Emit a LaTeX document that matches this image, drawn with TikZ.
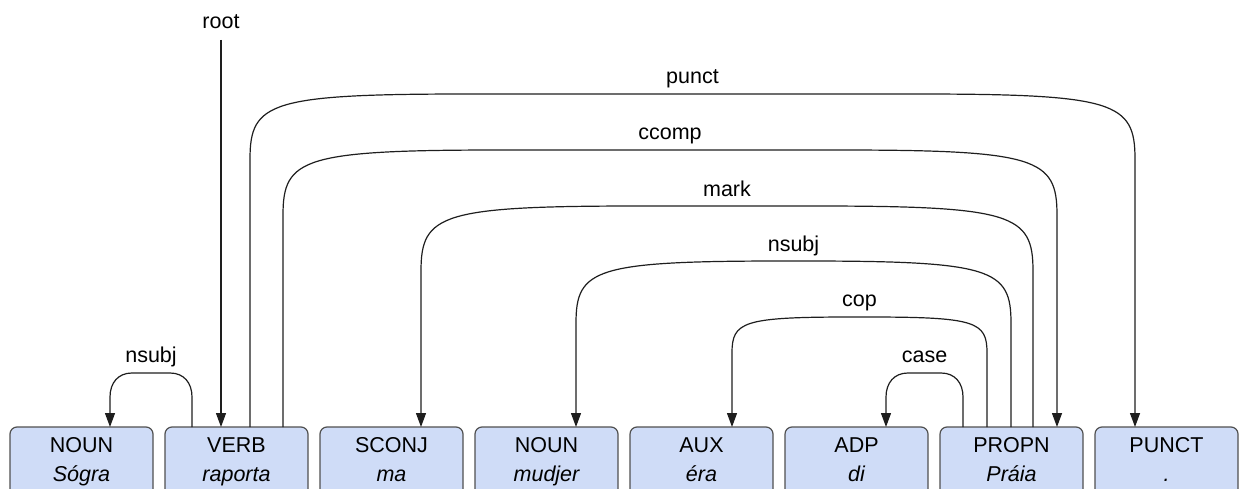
\documentclass[tikz,border=0pt]{standalone}
\usepackage{fontspec}
\setmainfont{Liberation Sans}
\usetikzlibrary{arrows.meta}
\definecolor{tokfill}{RGB}{207,220,247}
\definecolor{tokdraw}{RGB}{80,80,80}
\definecolor{arcline}{RGB}{30,30,30}
\tikzset{
  tok/.style={draw=tokdraw, fill=tokfill, line width=1.2pt, rounded corners=7pt,
    minimum width=143pt, minimum height=73pt, inner sep=0pt, outer sep=0pt},
  postag/.style={anchor=base, inner sep=0pt, font=\fontsize{21.5pt}{26pt}\selectfont},
  wordform/.style={anchor=base, inner sep=0pt, font=\fontsize{21.5pt}{26pt}\selectfont\itshape},
  rel/.style={anchor=base, inner sep=0pt, font=\fontsize{21.5pt}{26pt}\selectfont},
  deparc/.style={draw=arcline, line width=1.2pt, -{Triangle[length=14pt,width=10pt]}},
}
\begin{document}
\begin{tikzpicture}[x=1pt, y=-1pt]
\useasboundingbox (0,0) rectangle (1246,489);
\clip (0,0) rectangle (1246,489);

% token boxes (bottom edge runs past the page)
\foreach \i/\cx in {1/81.5,2/236.5,3/391.5,4/546.5,5/701.5,6/856.5,7/1011.5,8/1166.5}{
  \node[tok] (w\i) at (\cx,463.5) {};
}

% part-of-speech tags and word forms
\node[postag] (p1) at ([yshift=-25pt]w1.north) {NOUN};
\node[wordform] (f1) at ([yshift=-54pt]w1.north) {Sógra};
\node[postag] (p2) at ([yshift=-25pt]w2.north) {VERB};
\node[wordform] (f2) at ([yshift=-54pt]w2.north) {raporta};
\node[postag] (p3) at ([yshift=-25pt]w3.north) {SCONJ};
\node[wordform] (f3) at ([yshift=-54pt]w3.north) {ma};
\node[postag] (p4) at ([yshift=-25pt]w4.north) {NOUN};
\node[wordform] (f4) at ([yshift=-54pt]w4.north) {mudjer};
\node[postag] (p5) at ([yshift=-25pt]w5.north) {AUX};
\node[wordform] (f5) at ([yshift=-54pt]w5.north) {éra};
\node[postag] (p6) at ([yshift=-25pt]w6.north) {ADP};
\node[wordform] (f6) at ([yshift=-54pt]w6.north) {di};
\node[postag] (p7) at ([yshift=-25pt]w7.north) {PROPN};
\node[wordform] (f7) at ([yshift=-54pt]w7.north) {Práia};
\node[postag] (p8) at ([yshift=-25pt]w8.north) {PUNCT};
\node[wordform] (f8) at ([yshift=-54pt]w8.north) {.};

% relation labels
\node[rel] (lroot)  at (221,29)    {root};
\node[rel] (lpunct) at (692.5,84)  {punct};
\node[rel] (lccomp) at (670,140)   {ccomp};
\node[rel] (lmark)  at (727,196)   {mark};
\node[rel] (lnsubjb) at (793.5,251) {nsubj};
\node[rel] (lcop)   at (859.5,306) {cop};
\node[rel] (lcase)  at (924.5,362) {case};
\node[rel] (lnsubja) at (151,362)  {nsubj};

% root
\coordinate (rootstart) at (221,40);
\draw[deparc] (rootstart) -- ([xshift=-15.5pt]w2.north);

% nsubj: raporta -> Sógra
\draw[deparc] ([xshift=-44.5pt]w2.north) -- (192,397)
  .. controls (192,383) and (184,373) .. (170,373) -- (132,373)
  .. controls (118,373) and (110,383) .. (110,397) -- ([xshift=28.5pt]w1.north);

% punct: raporta -> .
\draw[deparc] ([xshift=13.5pt]w2.north) -- (250,159)
  .. controls (250,102) and (270,94) .. (470,94) -- (915,94)
  .. controls (1115,94) and (1135,102) .. (1135,159) -- ([xshift=-31.5pt]w8.north);

% ccomp: raporta -> Práia
\draw[deparc] ([xshift=46.5pt]w2.north) -- (283,215)
  .. controls (283,158) and (303,150) .. (503,150) -- (837,150)
  .. controls (1037,150) and (1057,158) .. (1057,215) -- ([xshift=45.5pt]w7.north);

% mark: Práia -> ma
\draw[deparc] ([xshift=21.5pt]w7.north) -- (1033,271)
  .. controls (1033,214) and (1013,206) .. (813,206) -- (641,206)
  .. controls (441,206) and (421,214) .. (421,271) -- ([xshift=29.5pt]w3.north);

% nsubj: Práia -> mudjer
\draw[deparc] ([xshift=-0.5pt]w7.north) -- (1011,323)
  .. controls (1011,268.6) and (992,261) .. (802,261) -- (785,261)
  .. controls (595,261) and (576,268.6) .. (576,323) -- ([xshift=29.5pt]w4.north);

% cop: Práia -> éra
\draw[deparc] ([xshift=-24.5pt]w7.north) -- (987,353)
  .. controls (987,321.4) and (976,317) .. (866,317) -- (853,317)
  .. controls (743,317) and (732,321.4) .. (732,353) -- ([xshift=30.5pt]w5.north);

% case: Práia -> di
\draw[deparc] ([xshift=-48.5pt]w7.north) -- (963,397)
  .. controls (963,383) and (955,373) .. (941,373) -- (908,373)
  .. controls (894,373) and (886,383) .. (886,397) -- ([xshift=29.5pt]w6.north);
\end{tikzpicture}
\end{document}
